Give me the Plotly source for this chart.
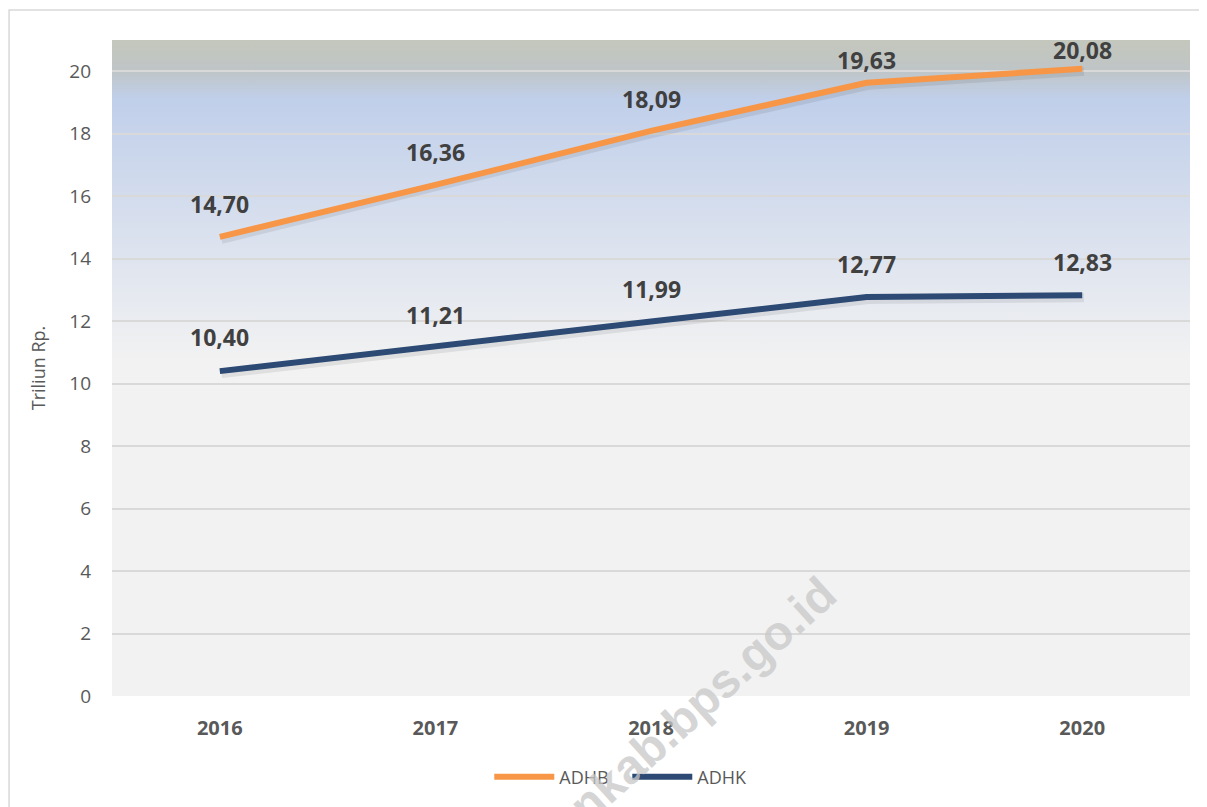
import base64
import plotly.graph_objects as go

# ---- data ----
years = ["2016", "2017", "2018", "2019", "2020"]
adhb = [14.70, 16.36, 18.09, 19.63, 20.08]
adhk = [10.40, 11.21, 11.99, 12.77, 12.83]
adhb_labels = ["14,70", "16,36", "18,09", "19,63", "20,08"]
adhk_labels = ["10,40", "11,21", "11,99", "12,77", "12,83"]
y_ticks = [0, 2, 4, 6, 8, 10, 12, 14, 16, 18, 20]

# ---- styling ----
ORANGE = "#F79646"
NAVY = "#2C4A73"
LABEL_COLOR = "#404040"
TICK_COLOR = "#595959"
FONT = "Open Sans"
adhb_shift = [33, 33, 32, 23, 19]
adhk_shift = [34, 31, 32, 33, 33]

xi = list(range(len(years)))

svg = (
    '<svg xmlns="http://www.w3.org/2000/svg" width="100" height="100" '
    'viewBox="0 0 100 100" preserveAspectRatio="none">'
    '<defs><linearGradient id="g" x1="0" y1="0" x2="0" y2="1">'
    '<stop offset="0" stop-color="#c4c7bc"/>'
    '<stop offset="0.045" stop-color="#bfc5c6"/>'
    '<stop offset="0.09" stop-color="#c0cfea"/>'
    '<stop offset="0.49" stop-color="#f2f2f2"/>'
    '<stop offset="1" stop-color="#f2f2f2"/>'
    '</linearGradient></defs>'
    '<rect x="0" y="0" width="100" height="100" fill="url(#g)"/></svg>'
)
bg_src = "data:image/svg+xml;base64," + base64.b64encode(svg.encode()).decode()

fig = go.Figure()

# soft shadows
for vals in (adhb, adhk):
    fig.add_trace(go.Scatter(
        x=[v + 0.008 for v in xi], y=[v - 0.08 for v in vals], mode="lines",
        line=dict(color="rgba(0,0,0,0.08)", width=9),
        showlegend=False, hoverinfo="skip"))

fig.add_trace(go.Scatter(x=xi, y=adhb, mode="lines", name="ADHB",
                         line=dict(color=ORANGE, width=6)))
fig.add_trace(go.Scatter(x=xi, y=adhk, mode="lines", name="ADHK",
                         line=dict(color=NAVY, width=6)))

annotations = []
for vals, labels, shifts in ((adhb, adhb_labels, adhb_shift), (adhk, adhk_labels, adhk_shift)):
    for x, v, t, s in zip(xi, vals, labels, shifts):
        annotations.append(dict(
            x=x, y=v, xref="x", yref="y", text=t, showarrow=False, yshift=s,
            xanchor="center", yanchor="middle",
            font=dict(family=FONT, size=23, color=LABEL_COLOR, weight="bold")))

# watermark
annotations.append(dict(
    x=0.548, y=-0.005, xref="paper", yref="paper", text="nkab.bps.go.id",
    showarrow=False, textangle=-42, xanchor="center", yanchor="middle",
    font=dict(family="Liberation Sans", size=48, color="rgba(200,200,200,0.75)",
              weight="bold")))

fig.update_layout(
    width=1199, height=799,
    margin=dict(l=104, r=17, t=32, b=110),
    paper_bgcolor="white",
    plot_bgcolor="#f2f2f2",
    font=dict(family=FONT, color=TICK_COLOR),
    images=[dict(source=bg_src, xref="paper", yref="paper", x=0, y=1,
                 sizex=1, sizey=1, sizing="stretch", xanchor="left",
                 yanchor="top", layer="below")],
    shapes=[dict(type="rect", xref="paper", yref="paper",
                 x0=-0.0955, x1=1.03, y0=-0.2, y1=1.0457,
                 line=dict(color="#d9d9d9", width=1.5), layer="below")],
    annotations=annotations,
    xaxis=dict(range=[-0.5, 4.5], tickmode="array", tickvals=xi, ticktext=years,
               showgrid=False, zeroline=False, showline=False, ticks="",
               ticklabelstandoff=18,
               tickfont=dict(family=FONT, size=20, color=TICK_COLOR, weight="bold")),
    yaxis=dict(range=[0, 21], tickmode="array", tickvals=y_ticks,
               showgrid=True, gridcolor="#d9d9d9", gridwidth=1.5,
               zeroline=False, showline=False, ticks="",
               ticklabelstandoff=20,
               tickfont=dict(family=FONT, size=19, color=TICK_COLOR),
               title=dict(text="Triliun Rp.", standoff=18,
                          font=dict(family=FONT, size=18, color=TICK_COLOR))),
    legend=dict(orientation="h", x=0.478, xanchor="center", y=-0.122,
                yanchor="middle", font=dict(family=FONT, size=18, color=TICK_COLOR),
                itemwidth=60, entrywidth=63, entrywidthmode="pixels",
                bgcolor="rgba(0,0,0,0)"),
    showlegend=True,
)

fig.write_html("out.html")
